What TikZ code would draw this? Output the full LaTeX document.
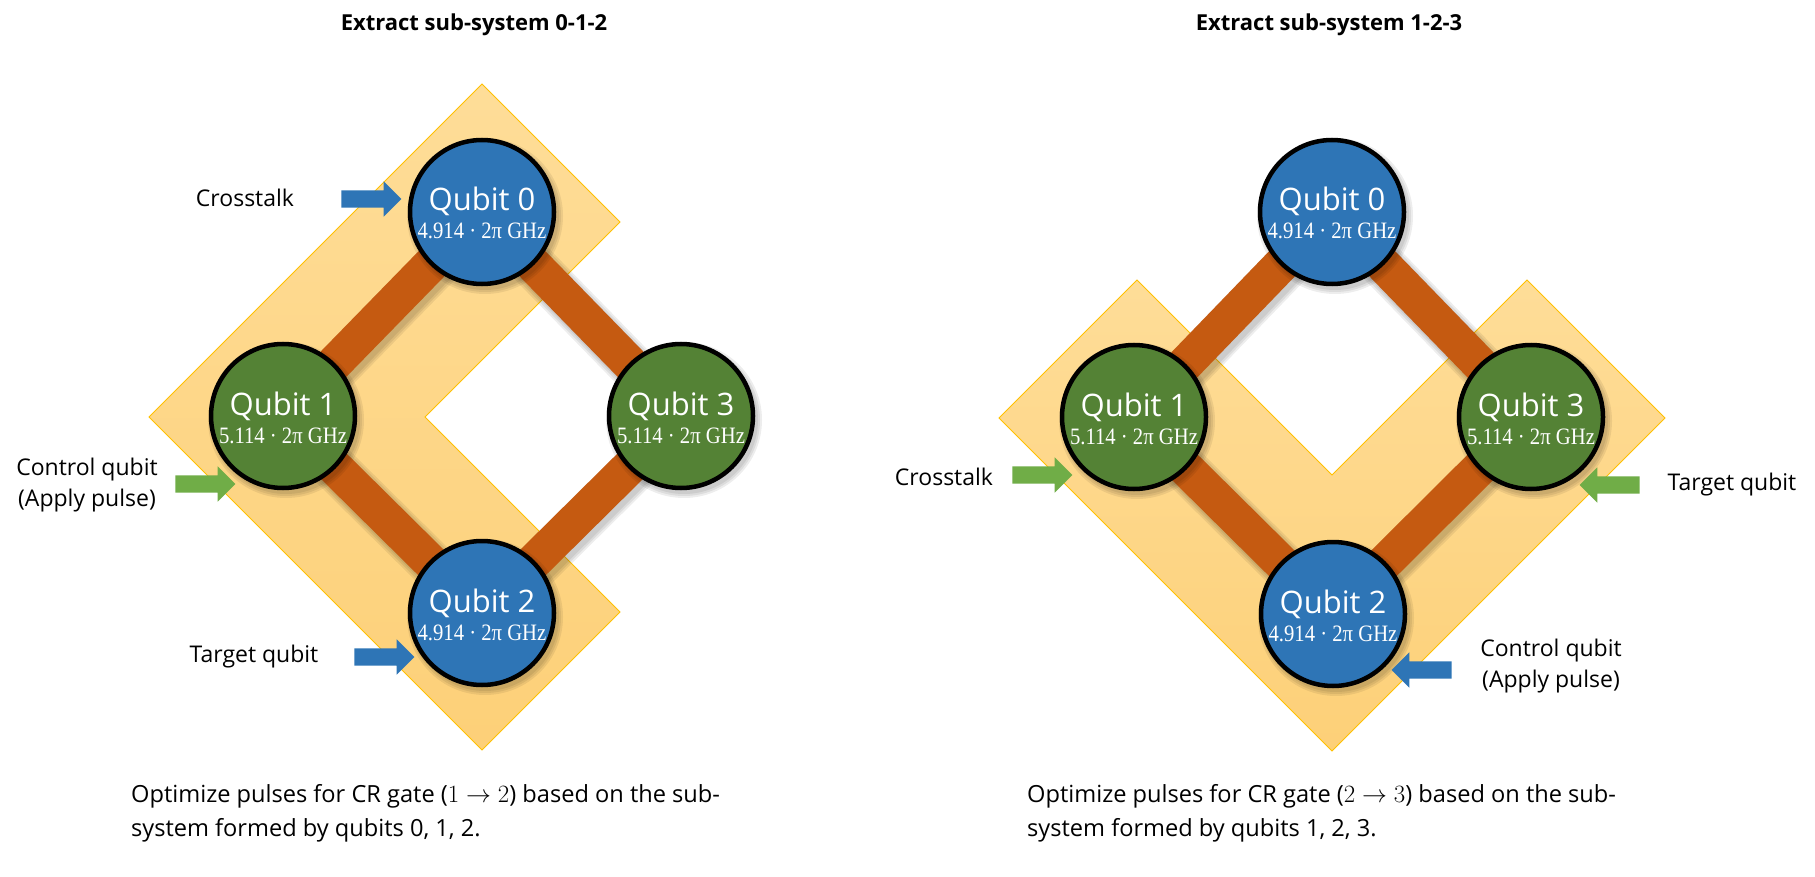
\documentclass[tikz,border=0pt]{standalone}
\usepackage{fontspec}
\usetikzlibrary{shapes.arrows}
\newfontfamily\osans{Open Sans}
\newfontfamily\lserif[FakeStretch=0.88]{Liberation Serif}
\definecolor{qblue}{RGB}{46,117,182}
\definecolor{qgreen}{RGB}{84,130,53}
\definecolor{bondc}{RGB}{197,90,17}
\definecolor{agreen}{RGB}{112,173,71}
\definecolor{regtop}{RGB}{254,221,152}
\definecolor{regbot}{RGB}{253,208,120}
\definecolor{regedge}{RGB}{255,192,0}
\pgfdeclarelayer{paper}
\pgfdeclarelayer{back}
\pgfdeclarelayer{mid}
\pgfsetlayers{paper,back,mid,main}
\newcommand\mybond[2]{%
  \begin{pgfonlayer}{mid}
  \foreach \w in {46,42,38}{\draw[black,opacity=0.07,line width=\w pt] ([xshift=3pt,yshift=-4pt]#1.center) -- ([xshift=3pt,yshift=-4pt]#2.center);}
  \draw[bondline] (#1.center) -- (#2.center);
  \end{pgfonlayer}}
\newcommand\myqubit[5]{% name, coord, colour, label, freq
  \foreach \r in {78,76,74}{\fill[black,opacity=0.07] ([xshift=3pt,yshift=-4pt]#2) circle (\r pt);}
  \node[qubit,fill=#3] (#1) at (#2) {};
  \node[qname,anchor=base] (#1t) at ([yshift=1pt]#1.center) {#4};
  \node[qfreq,anchor=base] (#1f) at ([yshift=-27pt]#1.center) {#5};}
\begin{document}
\begin{tikzpicture}[x=1pt,y=-1pt,
  qubit/.style={circle,draw=black,line width=4.5pt,minimum size=144pt,inner sep=0pt},
  qname/.style={text=white,inner sep=0pt,font=\osans\fontsize{31}{36}\selectfont},
  qfreq/.style={text=white,inner sep=0pt,font=\lserif\fontsize{23.5}{26}\selectfont},
  bondline/.style={bondc,line width=36pt},
  region/.style={top color=regtop,bottom color=regbot,draw=regedge,line width=1pt},
  lbl/.style={inner sep=0pt,align=center,font=\osans\fontsize{23}{31}\selectfont},
  note/.style={inner sep=0pt,align=left,anchor=west,font=\osans\fontsize{23.6}{34}\selectfont},
  ttl/.style={inner sep=0pt,font=\osans\bfseries\fontsize{22}{26}\selectfont},
  barrow/.style={single arrow,draw=none,minimum height=60pt,inner xsep=0pt,inner ysep=8.5pt,
     single arrow head extend=9pt,single arrow head indent=0pt},
]
\useasboundingbox (0,0) rectangle (1815,877);
\begin{pgfonlayer}{paper}
\fill[white] (0,0) rectangle (1815,877);
\end{pgfonlayer}

% ---------------- left panel ----------------
\coordinate (L0c) at (482,212);
\coordinate (L1c) at (283,416);
\coordinate (L3c) at (681,416);
\coordinate (L2c) at (482,613);
\begin{pgfonlayer}{back}
\path[region] (482,84) -- (620,222) -- (425,417) -- (620,612) -- (482,750) -- (149,417) -- cycle;
\end{pgfonlayer}
\myqubit{L0}{L0c}{qblue}{Qubit 0}{4.914 · 2π GHz}
\myqubit{L1}{L1c}{qgreen}{Qubit 1}{5.114 · 2π GHz}
\myqubit{L3}{L3c}{qgreen}{Qubit 3}{5.114 · 2π GHz}
\myqubit{L2}{L2c}{qblue}{Qubit 2}{4.914 · 2π GHz}
\mybond{L0}{L1}
\mybond{L0}{L3}
\mybond{L1}{L2}
\mybond{L3}{L2}

\node[ttl] (Ltitle) at (474,25) {Extract sub-system 0-1-2};
\node[lbl] (Lcross) at (245,198) {Crosstalk};
\node[barrow,fill=qblue] (Lcrossar) at (367,199) {};
\node[lbl] (Lctrl) at (87,485) {Control qubit\\(Apply pulse)};
\node[barrow,fill=agreen] (Lctrlar) at (201,484) {};
\node[lbl] (Ltarg) at (254,657) {Target qubit};
\node[barrow,fill=qblue] (Ltargar) at (380,657) {};
\node[note] (Lnote) at (131,813) {Optimize pulses for CR gate ($1\rightarrow 2$) based on the sub-\\system formed by qubits 0, 1, 2.};

% ---------------- right panel ----------------
\coordinate (R0c) at (1332,212);
\coordinate (R1c) at (1134,417);
\coordinate (R3c) at (1531,417);
\coordinate (R2c) at (1333,614);
\begin{pgfonlayer}{back}
\path[region] (999,418) -- (1137,280) -- (1332,475) -- (1527,280) -- (1665,418) -- (1332,751) -- cycle;
\end{pgfonlayer}
\myqubit{R0}{R0c}{qblue}{Qubit 0}{4.914 · 2π GHz}
\myqubit{R1}{R1c}{qgreen}{Qubit 1}{5.114 · 2π GHz}
\myqubit{R3}{R3c}{qgreen}{Qubit 3}{5.114 · 2π GHz}
\myqubit{R2}{R2c}{qblue}{Qubit 2}{4.914 · 2π GHz}
\mybond{R0}{R1}
\mybond{R0}{R3}
\mybond{R1}{R2}
\mybond{R3}{R2}

\node[ttl] (Rtitle) at (1329,25) {Extract sub-system 1-2-3};
\node[lbl] (Rcross) at (944,477) {Crosstalk};
\node[barrow,fill=agreen] (Rcrossar) at (1038,475) {};
\node[lbl] (Rtarg) at (1732,485) {Target qubit};
\node[barrow,fill=agreen,shape border rotate=180] (Rtargar) at (1614,485) {};
\node[lbl] (Rctrl) at (1551,666) {Control qubit\\(Apply pulse)};
\node[barrow,fill=qblue,shape border rotate=180] (Rctrlar) at (1426,670) {};
\node[note] (Rnote) at (1027,813) {Optimize pulses for CR gate ($2\rightarrow 3$) based on the sub-\\system formed by qubits 1, 2, 3.};
\end{tikzpicture}
\end{document}
